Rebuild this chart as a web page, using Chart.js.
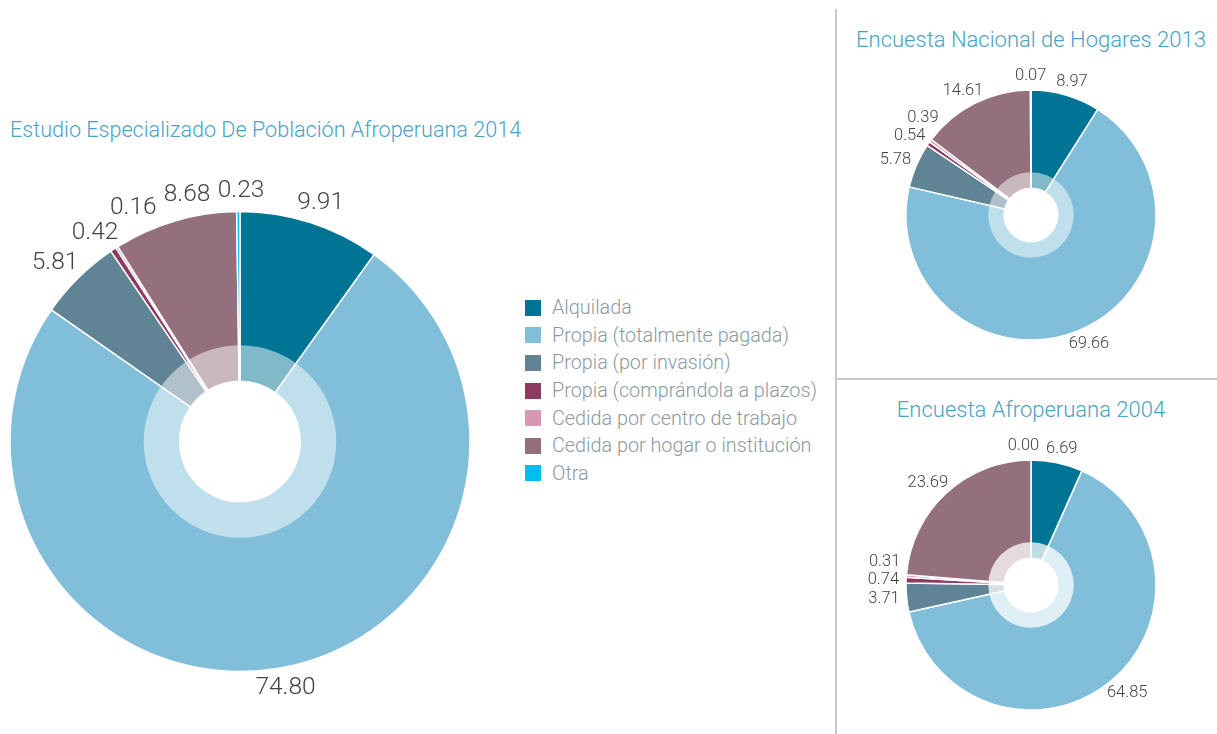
<!DOCTYPE html>
<html>
<head>
<meta charset="utf-8">
<script src="https://cdn.jsdelivr.net/npm/chart.js@4.4.1/dist/chart.umd.min.js"></script>
<style>
	body { margin: 0; background: #fff; width: 1217px; height: 734px; overflow: hidden; position: relative; font-family: Roboto, "Liberation Sans", sans-serif; }
	.box { position: absolute; }
	.title { position: absolute; color: #4aa2c4; font-weight: 300; white-space: nowrap; }
	#t2014 { left: 10px; top: 117px; font-size: 21.6px; line-height: 26px; }
	#t2013 { left: 845px; top: 26.8px; width: 372px; text-align: center; font-size: 22px; line-height: 26.4px; }
	#t2004 { left: 845px; top: 396.8px; width: 372px; text-align: center; font-size: 22px; line-height: 26.4px; }
	#big { left: 0; top: 0; width: 480px; height: 734px; }
	#enaho { left: 845px; top: 0; width: 372px; height: 378px; }
	#afro { left: 845px; top: 380px; width: 372px; height: 370px; }
	#vline { left: 835px; top: 9px; width: 2px; height: 725px; background: #c8c8c8; }
	#hline { left: 837px; top: 378px; width: 380px; height: 2px; background: #c8c8c8; }
	#legend { left: 525px; top: 294px; }
	#legend ul { list-style: none; margin: 0; padding: 0; }
	#legend li { display: flex; align-items: center; height: 27.6px; font-size: 19.8px; font-weight: 300; color: #8d99a2; white-space: nowrap; }
	#legend li span { display: inline-block; width: 16px; height: 16px; margin-right: 11px; }
</style>
</head>
<body>
<div class="box" id="vline"></div>
<div class="box" id="hline"></div>
<div class="title" id="t2014"></div>
<div class="title" id="t2013"></div>
<div class="title" id="t2004"></div>
<div class="box" id="big"><canvas id="bigChart"></canvas></div>
<div class="box" id="legend"></div>
<div class="box" id="enaho"><canvas id="enahoChart"></canvas></div>
<div class="box" id="afro"><canvas id="afroChart"></canvas></div>
<script>
const categories = [
	"Alquilada",
	"Propia (totalmente pagada)",
	"Propia (por invasión)",
	"Propia (comprándola a plazos)",
	"Cedida por centro de trabajo",
	"Cedida por hogar o institución",
	"Otra"
];
const colors = ["#007494", "#80bed9", "#608396", "#8c3a62", "#d698b2", "#94707e", "#00bfee"];

const values2014 = [9.91, 74.80, 5.81, 0.42, 0.16, 8.68, 0.23];
const values2013 = [8.97, 69.66, 5.78, 0.54, 0.39, 14.61, 0.07];
const values2004 = [6.69, 64.85, 3.71, 0.74, 0.31, 23.69, 0.00];

const title2014 = "Estudio Especializado De Población Afroperuana 2014";
const title2013 = "Encuesta Nacional de Hogares 2013";
const title2004 = "Encuesta Afroperuana 2004";

const fontFamily = "Roboto, 'Liberation Sans', sans-serif";

document.getElementById("t2014").textContent = title2014;
document.getElementById("t2013").textContent = title2013;
document.getElementById("t2004").textContent = title2004;

// lighter band just outside the hole
const innerShade = {
	id: "innerShade",
	afterDatasetsDraw(chart, args, opts) {
		const arc = chart.getDatasetMeta(0).data[0];
		if (!arc) return;
		const { x, y, innerRadius } = arc.getProps(["x", "y", "innerRadius"], true);
		const ctx = chart.ctx;
		ctx.save();
		ctx.beginPath();
		ctx.arc(x, y, innerRadius * opts.ratio, 0, Math.PI * 2);
		ctx.arc(x, y, innerRadius, 0, Math.PI * 2, true);
		ctx.fillStyle = "rgba(255,255,255," + opts.alpha + ")";
		ctx.fill();
		ctx.restore();
	}
};

// value labels outside each slice, nudged sideways when they collide
const outLabels = {
	id: "outLabels",
	afterDatasetsDraw(chart, args, opts) {
		const ctx = chart.ctx;
		const meta = chart.getDatasetMeta(0);
		const values = chart.data.datasets[0].data;
		ctx.save();
		ctx.font = "300 " + opts.size + "px " + fontFamily;
		ctx.fillStyle = opts.color;
		ctx.textAlign = "center";
		ctx.textBaseline = "middle";
		const placed = [];
		const h = opts.size * 0.85;
		const clear = (cx, cy, w) => placed.every(p =>
			Math.abs(cx - p.cx) > (w + p.w) / 2 + 6 || Math.abs(cy - p.cy) > h + 3);

		meta.data.forEach((arc, i) => {
			const { x, y, startAngle, endAngle, outerRadius } =
				arc.getProps(["x", "y", "startAngle", "endAngle", "outerRadius"], true);
			const mid = (startAngle + endAngle) / 2;
			const text = values[i].toFixed(2);
			const w = ctx.measureText(text).width;
			const r = outerRadius + opts.gap;
			let cx = x + Math.cos(mid) * (r + w / 2);
			let cy = y + Math.sin(mid) * (r + h / 2);
			if (!clear(cx, cy, w)) {
				const tx = -Math.sin(mid), ty = Math.cos(mid);
				search:
				for (let s = 1; s < 100; s++) {
					for (const dir of [1, -1]) {
						const nx = cx + dir * s * 1.5 * tx;
						const ny = cy + dir * s * 1.5 * ty;
						if (clear(nx, ny, w)) { cx = nx; cy = ny; break search; }
					}
				}
			}
			placed.push({ cx, cy, w });
			ctx.fillText(text, cx, cy);
		});
		ctx.restore();
	}
};

const htmlLegend = {
	id: "htmlLegend",
	afterUpdate(chart, args, opts) {
		const box = document.getElementById(opts.containerID);
		if (!box) return;
		box.innerHTML = "";
		const ul = document.createElement("ul");
		const items = chart.options.plugins.legend.labels.generateLabels(chart);
		items.forEach(item => {
			const li = document.createElement("li");
			const sw = document.createElement("span");
			sw.style.background = item.fillStyle;
			li.appendChild(sw);
			li.appendChild(document.createTextNode(item.text));
			ul.appendChild(li);
		});
		box.appendChild(ul);
	}
};

function donut(canvasId, values, o) {
	return new Chart(document.getElementById(canvasId), {
		type: "doughnut",
		data: {
			labels: categories,
			datasets: [{
				data: values,
				backgroundColor: colors,
				borderColor: "#ffffff",
				borderWidth: 1.5,
				hoverOffset: 0
			}]
		},
		options: {
			responsive: true,
			maintainAspectRatio: false,
			animation: false,
			radius: o.radius,
			cutout: o.cutout,
			layout: { padding: o.padding },
			plugins: {
				legend: { display: false },
				tooltip: { enabled: false },
				innerShade: { ratio: 1.6, alpha: o.shade },
				outLabels: { size: o.labelSize, gap: o.gap, color: "#444444" },
				htmlLegend: { containerID: o.legendID }
			}
		},
		plugins: [innerShade, outLabels, htmlLegend]
	});
}

donut("bigChart", values2014, {
	radius: 230, cutout: 60,
	padding: { left: 10, right: 10, top: 149, bottom: 0 },
	shade: 0.5, labelSize: 24.5, gap: 10, legendID: "legend"
});

donut("enahoChart", values2013, {
	radius: 125, cutout: 33,
	padding: { left: 0, right: 0, top: 60, bottom: 8 },
	shade: 0.5, labelSize: 16.5, gap: 7, legendID: null
});

donut("afroChart", values2004, {
	radius: 125, cutout: 33,
	padding: { left: 0, right: 0, top: 50, bottom: 10 },
	shade: 0.75, labelSize: 16.5, gap: 7, legendID: null
});
</script>
</body>
</html>
